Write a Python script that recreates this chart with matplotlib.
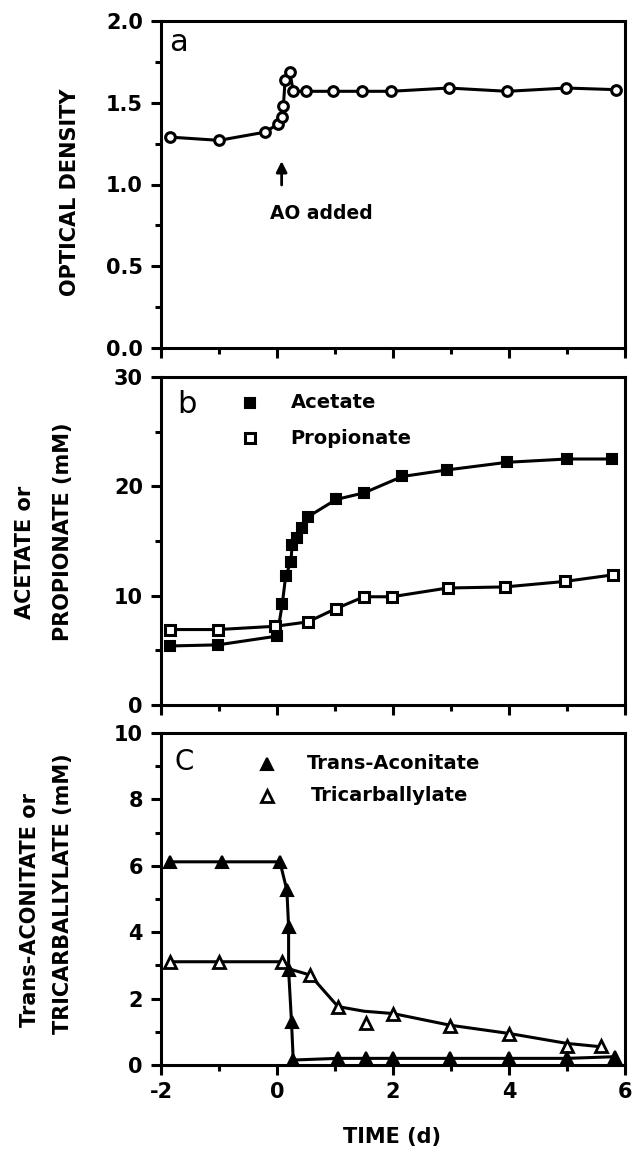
import numpy as np
import matplotlib
matplotlib.use('Agg')
import matplotlib.pyplot as plt

plt.rcParams['font.family'] = 'DejaVu Sans'
plt.rcParams['font.weight'] = 'bold'

# panel a - optical density
od_time = [-1.85, -1.0, -0.21, 0.02, 0.08, 0.11, 0.14, 0.22, 0.28, 0.5, 0.97, 1.47, 1.96, 2.96, 3.97, 4.99, 5.85]
od_value = [1.29, 1.27, 1.32, 1.37, 1.41, 1.48, 1.64, 1.69, 1.57, 1.57, 1.57, 1.57, 1.57, 1.59, 1.57, 1.59, 1.58]

# panel b - acetate / propionate (mM)
ac_time = [-1.84, -1.02, 0.0, 0.09, 0.15, 0.24, 0.26, 0.34, 0.43, 0.53, 1.02, 1.5, 2.16, 2.93, 3.97, 5.0, 5.78]
ac_value = [5.4, 5.5, 6.3, 9.2, 11.8, 13.1, 14.6, 15.3, 16.2, 17.2, 18.8, 19.4, 20.9, 21.5, 22.2, 22.5, 22.5]
pr_time = [-1.84, -1.02, -0.03, 0.53, 1.01, 1.5, 1.98, 2.94, 3.93, 4.96, 5.79]
pr_value = [6.9, 6.9, 7.2, 7.6, 8.8, 9.9, 9.9, 10.7, 10.8, 11.3, 11.9]

# panel c - trans-aconitate / tricarballylate (mM)
ta_time = [-1.84, -0.95, 0.05, 0.17, 0.2, 0.2, 0.25, 0.28, 1.05, 1.54, 2.0, 2.98, 4.0, 5.0, 5.83]
ta_value = [6.12, 6.12, 6.12, 5.27, 4.17, 2.86, 1.30, 0.15, 0.2, 0.2, 0.2, 0.2, 0.2, 0.2, 0.25]
tc_time = [-1.84, -1.0, 0.08, 0.57, 1.05, 1.54, 2.0, 2.98, 4.0, 5.0, 5.58]
tc_value = [3.11, 3.11, 3.11, 2.71, 1.76, 1.28, 1.55, 1.17, 0.93, 0.58, 0.58]
# hand-drawn fit through the tricarballylate points
tc_fit_time = [-1.84, -1.0, 0.08, 0.2, 0.57, 1.05, 1.5, 2.0, 2.98, 4.0, 5.0, 5.58]
tc_fit_value = [3.11, 3.11, 3.11, 2.9, 2.71, 1.76, 1.62, 1.55, 1.2, 0.95, 0.65, 0.55]

xticks = [-2, 0, 2, 4, 6]
xtick_labels = ['-2', '0', '2', '4', '6']
od_ticks = [0.0, 0.5, 1.0, 1.5, 2.0]
od_tick_labels = ['0.0', '0.5', '1.0', '1.5', '2.0']
acid_ticks = [0, 10, 20, 30]
tca_ticks = [0, 2, 4, 6, 8, 10]

W, H = 634, 1153
fig = plt.figure(figsize=(W / 100, H / 100), dpi=100)

def make_ax(top, bottom):
    left, right = 161, 625
    return fig.add_axes([left / W, 1 - bottom / H, (right - left) / W, (bottom - top) / H])

ax_a = make_ax(21, 348)
ax_b = make_ax(377, 705)
ax_c = make_ax(733, 1065)

for ax in (ax_a, ax_b, ax_c):
    ax.set_xlim(-2, 6)
    ax.set_xticks(xticks)
    ax.set_xticks([-1, 1, 3, 5], minor=True)
    for s in ax.spines.values():
        s.set_linewidth(2.2)
    ax.tick_params(which='major', direction='out', length=7, width=2.2, labelsize=15, pad=5)
    ax.tick_params(which='minor', direction='out', length=4.5, width=2.2)
    ax.tick_params(axis='y', which='major', pad=6)

ax_a.set_xticklabels([])
ax_b.set_xticklabels([])
ax_c.set_xticklabels(xtick_labels)

line_kw = dict(color='black', lw=2.2)

# a
ax_a.plot(od_time, od_value, marker='o', ms=7, mfc='white', mec='black', mew=2.2, **line_kw)
ax_a.set_ylim(0, 2.0)
ax_a.set_yticks(od_ticks)
ax_a.set_yticklabels(od_tick_labels)
ax_a.set_yticks([0.25, 0.75, 1.25, 1.75], minor=True)
ax_a.annotate('', xy=(0.08, 1.16), xytext=(0.08, 0.98),
              arrowprops=dict(arrowstyle='-|>', lw=2, color='black', mutation_scale=16))
ax_a.text(0.77, 0.82, 'AO added', ha='center', va='center', fontsize=13.5)
ax_a.text(0.037, 0.933, 'a', transform=ax_a.transAxes, ha='center', va='center',
          fontsize=22, fontweight='normal')

# b
ax_b.plot(ac_time, ac_value, marker='s', ms=7.5, mfc='black', mec='black', mew=1.5, **line_kw)
ax_b.plot(pr_time, pr_value, marker='s', ms=7, mfc='white', mec='black', mew=2.2, **line_kw)
ax_b.set_ylim(0, 30)
ax_b.set_yticks(acid_ticks)
ax_b.set_yticks([5, 15, 25], minor=True)
ax_b.text(0.056, 0.915, 'b', transform=ax_b.transAxes, ha='center', va='center',
          fontsize=22, fontweight='normal')
ax_b.plot([0.192], [0.921], transform=ax_b.transAxes, marker='s', ms=7.5, mfc='black', mec='black', mew=1.5)
ax_b.plot([0.192], [0.814], transform=ax_b.transAxes, marker='s', ms=7, mfc='white', mec='black', mew=2.2)
ax_b.text(0.279, 0.921, 'Acetate', transform=ax_b.transAxes, va='center', fontsize=14)
ax_b.text(0.279, 0.814, 'Propionate', transform=ax_b.transAxes, va='center', fontsize=14)

# c
ax_c.plot(tc_fit_time, tc_fit_value, **line_kw)
ax_c.plot(tc_time, tc_value, ls='none', marker='^', ms=8, mfc='white', mec='black', mew=2)
ax_c.plot(ta_time, ta_value, marker='^', ms=8.5, mfc='black', mec='black', mew=1.5, **line_kw)
ax_c.set_ylim(0, 10)
ax_c.set_yticks(tca_ticks)
ax_c.set_yticks([1, 3, 5, 7, 9], minor=True)
ax_c.text(0.05, 0.913, 'C', transform=ax_c.transAxes, ha='center', va='center',
          fontsize=20, fontweight='normal')
ax_c.plot([0.228], [0.908], transform=ax_c.transAxes, marker='^', ms=8.5, mfc='black', mec='black', mew=1.5)
ax_c.plot([0.228], [0.811], transform=ax_c.transAxes, marker='^', ms=8, mfc='white', mec='black', mew=2)
ax_c.text(0.315, 0.908, 'Trans-Aconitate', transform=ax_c.transAxes, va='center', fontsize=14)
ax_c.text(0.322, 0.811, 'Tricarballylate', transform=ax_c.transAxes, va='center', fontsize=14)

# axis titles
lab_kw = dict(rotation=90, ha='center', va='center', fontsize=15)
fig.text(70 / W, 1 - 192 / H, 'OPTICAL DENSITY', **lab_kw)
fig.text(25 / W, 1 - 552 / H, 'ACETATE or', **lab_kw)
fig.text(63 / W, 1 - 532 / H, 'PROPIONATE (mM)', **lab_kw)
fig.text(30 / W, 1 - 910 / H, 'Trans-ACONITATE or', **lab_kw)
fig.text(63 / W, 1 - 894 / H, 'TRICARBALLYLATE (mM)', **lab_kw)
fig.text(392 / W, 1 - 1137 / H, 'TIME (d)', ha='center', va='center', fontsize=15)

fig.savefig('out.png', dpi=100)
